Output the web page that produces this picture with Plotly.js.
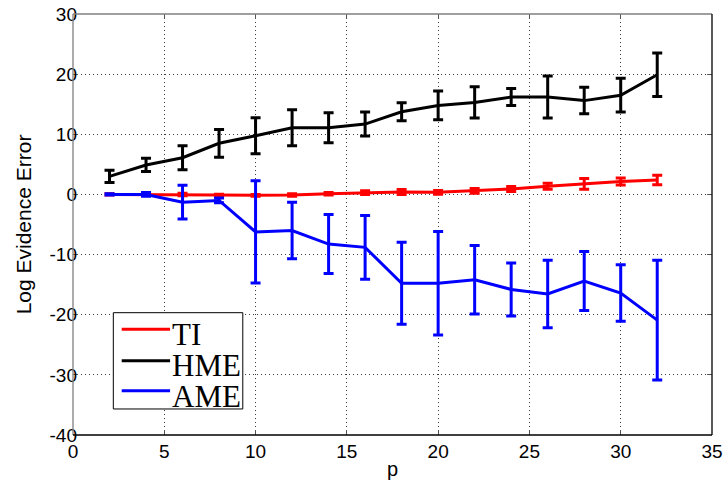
<!DOCTYPE html>
<html>
<head>
<meta charset="utf-8">
<script src="https://cdn.plot.ly/plotly-3.0.1.min.js"></script>
<style>html,body{margin:0;padding:0;background:#fff;}#chart{width:723px;height:486px;}</style>
</head>
<body>
<div id="chart"></div>
<script>
// ---- data ----
const p = [2, 4, 6, 8, 10, 12, 14, 16, 18, 20, 22, 24, 26, 28, 30, 32];

const tiMean = [0.0, 0.0, 0.0, -0.1, -0.15, -0.1, 0.1, 0.3, 0.4, 0.35, 0.6, 0.9, 1.35, 1.75, 2.15, 2.4];
const tiErr  = [0.1, 0.1, 0.2, 0.15, 0.15, 0.2, 0.2, 0.3, 0.4, 0.3, 0.4, 0.4, 0.5, 0.9, 0.6, 0.8];

const hmeMean = [3.0, 4.9, 6.1, 8.5, 9.75, 11.1, 11.1, 11.7, 13.75, 14.8, 15.3, 16.2, 16.2, 15.6, 16.5, 19.9];
const hmeErr  = [1.0, 1.1, 2.0, 2.3, 3.0, 3.0, 2.5, 2.0, 1.5, 2.4, 2.6, 1.4, 3.5, 2.2, 2.8, 3.6];

const ameMean = [0.0, 0.0, -1.28, -1.0, -6.24, -6.0, -8.25, -8.8, -14.77, -14.77, -14.2, -15.8, -16.55, -14.4, -16.4, -20.9];
const ameErr  = [0.1, 0.3, 2.8, 0.4, 8.5, 4.7, 4.9, 5.3, 6.8, 8.6, 5.7, 4.4, 5.6, 4.9, 4.7, 9.95];

const seriesNames = ['TI', 'HME', 'AME'];
const seriesColors = ['#ff0000', '#000000', '#0000ff'];
const xTicks = [0, 5, 10, 15, 20, 25, 30, 35];
const yTicks = [-40, -30, -20, -10, 0, 10, 20, 30];

// ---- traces ----
const means = [tiMean, hmeMean, ameMean];
const errs = [tiErr, hmeErr, ameErr];
const traces = means.map((m, i) => ({
  x: p, y: m, type: 'scatter', mode: 'lines', name: seriesNames[i],
  line: {color: seriesColors[i], width: 3},
  error_y: {type: 'data', array: errs[i], visible: true, color: seriesColors[i], thickness: 3, width: 5},
  showlegend: false, hoverinfo: 'skip'
}));

// ---- manual MATLAB-style legend ----
const legRows = [0.2511, 0.1765, 0.1052];
const legText = [0.240, 0.1668, 0.0932];
const shapes = [
  // box frame: left/top gray, bottom/right black
  {type: 'line', xref: 'paper', yref: 'paper', x0: 0, x1: 0, y0: 0, y1: 1, line: {color: '#7f7f7f', width: 1.3}},
  {type: 'line', xref: 'paper', yref: 'paper', x0: 0, x1: 1, y0: 1, y1: 1, line: {color: '#7f7f7f', width: 1.3}},
  {type: 'line', xref: 'paper', yref: 'paper', x0: 0, x1: 1, y0: 0, y1: 0, line: {color: '#000000', width: 1.3}},
  {type: 'line', xref: 'paper', yref: 'paper', x0: 1, x1: 1, y0: 0, y1: 1, line: {color: '#000000', width: 1.3}},
  // legend box
  {type: 'rect', xref: 'paper', yref: 'paper', x0: 0.0631, x1: 0.2657, y0: 0.0618, y1: 0.2905,
   line: {color: '#000000', width: 1}, fillcolor: '#ffffff', layer: 'above'}
];
const annotations = [];
seriesNames.forEach((n, i) => {
  shapes.push({type: 'line', xref: 'paper', yref: 'paper', x0: 0.0762, x1: 0.1519, y0: legRows[i], y1: legRows[i],
    line: {color: seriesColors[i], width: 3}, layer: 'above'});
  annotations.push({xref: 'paper', yref: 'paper', x: 0.153, y: legText[i], xanchor: 'left', yanchor: 'middle',
    height: 28, valign: 'middle', borderpad: 0,
    text: n, showarrow: false, font: {family: 'Liberation Serif, Times New Roman, serif', size: 31, color: '#000'}});
});

const axisCommon = {
  showline: false, zeroline: false, showgrid: true,
  gridcolor: '#3a3a3a', griddash: '1px,3px', gridwidth: 1,
  ticks: 'inside', ticklen: 5, tickcolor: '#555', tickwidth: 1, mirror: 'ticks',
  tickfont: {family: 'Liberation Sans, Arial, sans-serif', size: 19, color: '#000'}
};

const layout = {
  width: 723, height: 486,
  margin: {l: 73, r: 11, t: 14, b: 51, pad: 0},
  paper_bgcolor: '#ffffff', plot_bgcolor: '#ffffff',
  showlegend: false,
  xaxis: Object.assign({}, axisCommon, {
    range: [0, 35], tickvals: xTicks, ticktext: xTicks.map(String),
    ticklabelstandoff: 3,
    title: {text: 'p', font: {family: 'Liberation Sans, Arial, sans-serif', size: 20, color: '#000'}, standoff: 0}
  }),
  yaxis: Object.assign({}, axisCommon, {
    range: [-40, 30], tickvals: yTicks, ticktext: yTicks.map(String),
    ticklabelstandoff: -5,
    title: {text: 'Log Evidence Error', font: {family: 'Liberation Sans, Arial, sans-serif', size: 21, color: '#000'}, standoff: 12}
  }),
  shapes: shapes,
  annotations: annotations
};

Plotly.newPlot('chart', traces, layout, {displayModeBar: false, staticPlot: true});
</script>
</body>
</html>
